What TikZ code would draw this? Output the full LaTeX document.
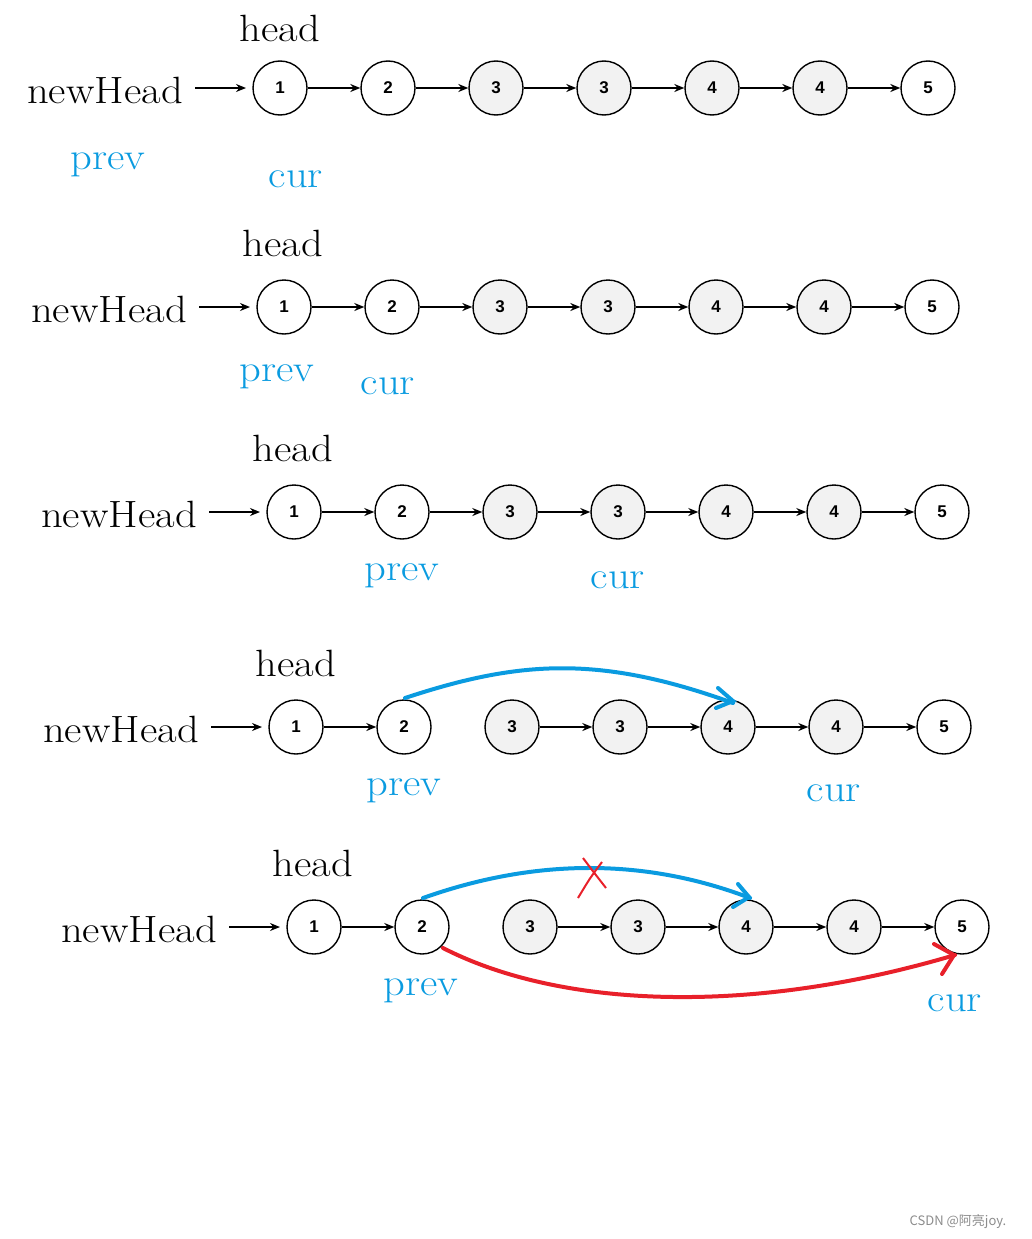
\documentclass[tikz,border=0pt]{standalone}
\usepackage{fontspec}
\newfontfamily\sansf{Liberation Sans}
\newfontfamily\cjk{Noto Sans CJK SC}
\usetikzlibrary{arrows.meta}
\definecolor{bl}{HTML}{0A9BE0}
\definecolor{rd}{HTML}{E8202A}
\begin{document}
\begin{tikzpicture}[x=1pt,y=-1pt,
  nd/.style={circle,draw,line width=1.4pt,minimum size=54pt,inner sep=0pt,font=\sansf\bfseries\fontsize{17}{17}\selectfont},
  gr/.style={nd,fill=black!5},
  lk/.style={-{Stealth[length=10pt,width=8pt]},line width=1.4pt},
  lb/.style={font=\fontsize{38}{38}\selectfont,xscale=1.12},
  bt/.style={lb,text=bl,yshift=-5pt}]
\useasboundingbox (0,0) rectangle (1031,1239);
\newcommand{\listrow}[4]{% prefix, x0, y, skip23
  \node[lb] (#1nh) at (#2-175,#3+2) {newHead};
  \coordinate (#1s) at (#2-85,#3);
  \coordinate (#1e) at (#2-34,#3);
  \foreach \i/\v/\s in {1/1/nd,2/2/nd,3/3/gr,4/3/gr,5/4/gr,6/4/gr,7/5/nd}{
    \node[\s] (#1\i) at ({#2+(\i-1)*108},#3) {\v};}
  \draw[lk] (#1s) -- (#1e);
  \draw[lk] (#11) -- (#12);
  \ifnum#4=0 \draw[lk] (#12) -- (#13);\fi
  \draw[lk] (#13) -- (#14);\draw[lk] (#14) -- (#15);
  \draw[lk] (#15) -- (#16);\draw[lk] (#16) -- (#17);
}
\listrow{a}{280}{88}{0}
\listrow{b}{284}{307}{0}
\listrow{c}{294}{512}{0}
\listrow{d}{296}{727}{1}
\listrow{e}{314}{927}{1}
\node[lb] at (280,28) {head};
\node[bt] at (108,160) {prev};
\node[bt] at (296,174) {cur};
\node[lb] at (283,243) {head};
\node[bt] at (277,372) {prev};
\node[bt] at (388,381) {cur};
\node[lb] at (293,448) {head};
\node[bt] at (402,571) {prev};
\node[bt] at (618,575) {cur};
\node[lb] at (296,663) {head};
\node[bt] at (404,786) {prev};
\node[bt] at (834,788) {cur};
\node[lb] at (313,863) {head};
\node[bt] at (421,986) {prev};
\node[bt] at (955,998) {cur};
% row 4 blue
\coordinate (d2t) at (405,698);
\coordinate (d4t) at (733,703);
\draw[bl,line width=4pt,line cap=round] (d2t) .. controls (520,660) and (600,655) .. (d4t);
\draw[bl,line width=4pt,line cap=round] (718,688) -- (733,701) -- (716,708);
% row 5 blue
\coordinate (e2t) at (423,898);
\coordinate (e4t) at (750,898);
\draw[bl,line width=4pt,line cap=round] (e2t) .. controls (530,860) and (640,856) .. (e4t);
\draw[bl,line width=4pt,line cap=round] (738,884) -- (749,897) -- (733,907);
% red X
\draw[rd,line width=2pt] (583,858) .. controls (592,870) .. (606,888);
\draw[rd,line width=2pt] (602,862) .. controls (590,878) .. (578,898);
% red curve
\coordinate (e2b) at (443,948);
\coordinate (e7b) at (955,955);
\draw[rd,line width=4pt,line cap=round] (e2b) .. controls (560,1008) and (750,1016) .. (e7b);
\draw[rd,line width=4pt,line cap=round] (934,944) -- (954,955) -- (942,974);
\node[text=black!45,font=\cjk\fontsize{13}{13}\selectfont] at (958,1222) {CSDN @阿亮joy.};
\end{tikzpicture}
\end{document}
